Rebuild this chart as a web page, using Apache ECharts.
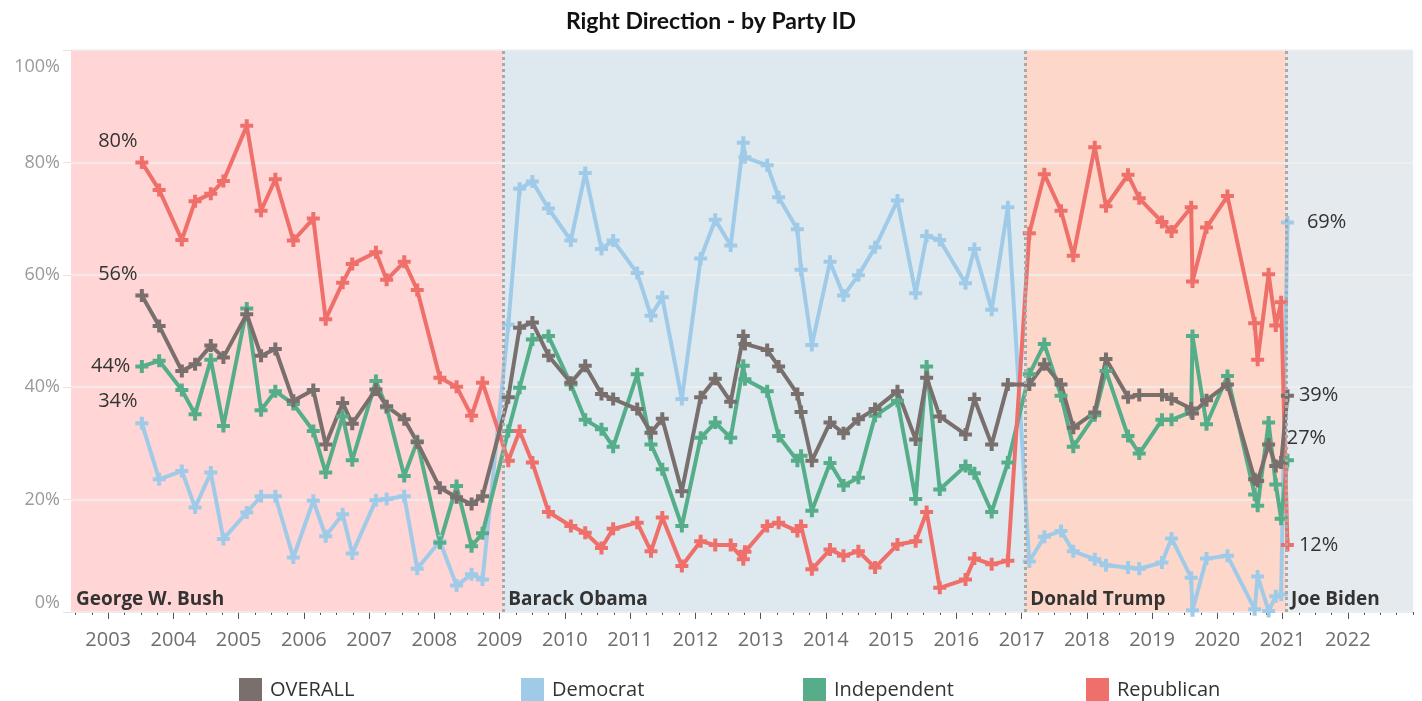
<!DOCTYPE html>
<html><head><meta charset="utf-8">
<script src="https://cdn.jsdelivr.net/npm/echarts@6/dist/echarts.min.js"></script>
<style>html,body{margin:0;padding:0;background:#fff}#c{width:1422px;height:701px}</style>
</head><body><div id="c"></div>
<script>
// ---- data (decimal year of survey, % saying "right direction") ----
const dates = [
  2003.516, 2003.781, 2004.129, 2004.332, 2004.573, 2004.766, 2005.124, 2005.343, 2005.562, 2005.838,
  2006.144, 2006.334, 2006.594, 2006.741, 2007.104, 2007.268, 2007.538, 2007.737, 2008.084, 2008.340,
  2008.570, 2008.738,
  2009.133, 2009.306, 2009.502, 2009.749, 2010.092, 2010.312, 2010.561, 2010.740, 2011.109, 2011.320,
  2011.493, 2011.793, 2012.081, 2012.305, 2012.542, 2012.735, 2012.760, 2013.101, 2013.276, 2013.564,
  2013.620, 2013.786, 2014.064, 2014.271, 2014.499, 2014.755, 2015.098, 2015.377, 2015.545, 2015.746,
  2016.141, 2016.277, 2016.542, 2016.790,
  2017.119, 2017.349, 2017.605, 2017.793, 2018.122, 2018.294, 2018.632, 2018.804, 2019.152, 2019.299,
  2019.600, 2019.620, 2019.835, 2020.156, 2020.573, 2020.619, 2020.787, 2020.897, 2020.979, 2021.075
];
const overall = [
  56.3, 50.9, 42.9, 44.1, 47.4, 45.3, 53.0, 45.6, 46.8, 37.6, 39.5, 29.8, 37.2, 33.5, 39.6, 36.6, 34.3, 30.2, 22.1, 20.4, 19.2, 20.6,
  38.2, 50.6, 51.5, 45.6, 40.8, 43.8, 38.8, 37.9, 36.1, 31.9, 34.4, 21.5, 38.2, 41.5, 37.4, 49.1, 47.7, 46.6, 43.7, 38.8, 35.6, 26.9,
  33.7, 31.8, 34.3, 36.1, 39.3, 30.7, 41.7, 34.8, 31.6, 37.9, 29.8, 40.5,
  40.5, 44.1, 40.5, 32.8, 35.5, 45.0, 38.2, 38.6, 38.6, 37.9, 36.2, 35.3, 37.7, 40.5, 23.6, 23.3, 29.8, 26.0, 26.6, 38.5
];
const democrat = [
  33.6, 23.6, 25.1, 18.6, 24.8, 13.0, 17.7, 20.6, 20.6, 9.7, 19.8, 13.5, 17.4, 10.4, 19.9, 20.1, 20.6, 7.7, 12.6, 4.7, 6.7, 5.8,
  51.1, 75.3, 76.6, 71.8, 66.1, 78.1, 64.6, 66.1, 60.3, 52.7, 56.0, 37.9, 62.9, 69.8, 65.2, 83.5, 80.9, 79.5, 73.8, 68.1, 60.9, 47.5,
  62.3, 56.3, 59.9, 64.9, 73.2, 56.7, 66.9, 66.2, 58.5, 64.6, 53.8, 72.0,
  9.0, 13.4, 14.4, 10.8, 9.4, 8.3, 7.9, 7.7, 8.8, 13.1, 6.1, 0.3, 9.5, 10.0, 0.5, 6.3, 0.2, 2.8, 3.1, 69.3
];
const independent = [
  43.7, 44.7, 39.5, 35.2, 44.9, 33.1, 54.0, 35.9, 39.3, 37.0, 32.2, 24.8, 34.8, 27.0, 41.1, 36.4, 24.2, 30.4, 12.3, 22.4, 11.7, 14.0,
  32.2, 39.9, 48.5, 49.1, 40.5, 34.2, 32.5, 29.4, 42.3, 29.8, 25.4, 15.3, 31.0, 33.7, 31.0, 43.8, 41.4, 39.3, 31.3, 26.9, 27.8, 18.0,
  26.5, 22.5, 23.9, 34.9, 37.6, 20.1, 43.7, 21.8, 26.0, 24.7, 17.8, 26.6,
  42.3, 47.7, 38.5, 29.4, 35.0, 42.9, 31.3, 28.2, 34.2, 34.2, 35.6, 49.1, 33.4, 42.0, 20.9, 18.9, 33.7, 22.7, 16.6, 27.0
];
const republican = [
  80.0, 75.1, 66.2, 73.1, 74.4, 76.7, 86.5, 71.4, 77.0, 66.1, 70.0, 52.1, 58.6, 61.9, 64.0, 59.1, 62.3, 57.3, 41.7, 40.1, 34.9, 40.8,
  26.9, 32.2, 26.6, 17.8, 15.3, 14.1, 11.4, 14.8, 15.9, 10.8, 16.8, 8.2, 12.6, 11.9, 11.9, 9.4, 10.7, 15.3, 15.9, 14.4, 15.3, 7.6,
  11.1, 10.0, 10.8, 7.9, 12.0, 12.6, 17.8, 4.3, 5.8, 9.5, 8.5, 9.1,
  67.4, 77.9, 71.4, 63.4, 82.7, 72.2, 77.8, 73.6, 69.4, 67.7, 72.0, 58.8, 68.4, 74.0, 51.4, 44.9, 60.1, 51.0, 55.1, 11.9
];
const seriesNames = ['OVERALL', 'Democrat', 'Independent', 'Republican'];
const yearLabels = [2003, 2004, 2005, 2006, 2007, 2008, 2009, 2010, 2011, 2012, 2013, 2014, 2015, 2016, 2017, 2018, 2019, 2020, 2021, 2022];
const presidents = ['George W. Bush', 'Barack Obama', 'Donald Trump', 'Joe Biden'];
const termStarts = [2002.43, 2009.055, 2017.055, 2021.055];
const axisStart = 2002.43, axisEnd = 2023.0;

// ---- styling ----
const colors = { 'OVERALL': '#79706e', 'Democrat': '#a0cbe8', 'Independent': '#55ae89', 'Republican': '#ef6f6a' };
const bandColors = ['#ffd5d5', '#dde9ef', '#fdd8ca', '#e5eaef'];
const FONT = 'Open Sans';
const plus = 'path://M4.5,0H8.5V4.5H13V8.5H8.5V13H4.5V8.5H0V4.5H4.5Z';

const quarterTicks = [];
for (let q = 2002.5; q <= axisEnd + 1e-9; q += 0.25) quarterTicks.push(+q.toFixed(2));

function makeSeries(name, vals, firstLabel, lastLabel, z) {
  const color = colors[name];
  const data = vals.map((v, i) => {
    const item = { value: [dates[i], v] };
    if (i === 0) item.label = Object.assign({ show: true }, firstLabel);
    if (i === vals.length - 1) item.label = Object.assign({ show: true }, lastLabel);
    return item;
  });
  return {
    name, type: 'line', data, z, color,
    symbol: plus, symbolSize: 13, showAllSymbol: true, symbolKeepAspect: true,
    lineStyle: { width: 4, color }, itemStyle: { color },
    label: { show: false, formatter: p => Math.round(p.value[1]) + '%', color: '#333', fontSize: 20, fontFamily: FONT },
    emphasis: { disabled: true }, animation: false
  };
}

const bandsSeries = {
  name: '_bands', type: 'line', data: [], z: 1, silent: true, animation: false,
  markArea: {
    silent: true, z: 1,
    label: { show: true, position: 'insideBottomLeft', distance: 5, offset: [0, 2], color: '#333', fontSize: 19, fontWeight: 'bold', fontFamily: FONT, formatter: '{b}' },
    data: presidents.map((p, i) => [
      { xAxis: termStarts[i], name: p, itemStyle: { color: bandColors[i] } },
      { xAxis: i < presidents.length - 1 ? termStarts[i + 1] : axisEnd }
    ])
  },
  markLine: {
    silent: true, symbol: 'none', label: { show: false },
    lineStyle: { color: '#a9a9a9', width: 3, type: [3, 3] },
    data: termStarts.slice(1).map(t => ({ xAxis: t }))
  }
};

const legendCommon = {
  icon: 'rect', itemWidth: 23, itemHeight: 24, top: 673, selectedMode: false,
  textStyle: { fontSize: 20, color: '#333', fontFamily: FONT, padding: [0, 0, 0, 3] }
};
const legendLefts = [234, 516, 798, 1081];

const option = {
  backgroundColor: '#fff',
  animation: false,
  title: {
    text: 'Right Direction - by Party ID', left: 'center', top: 5,
    textStyle: { fontSize: 23, fontWeight: 'bold', color: '#111', fontFamily: 'Lato' }
  },
  legend: seriesNames.map((n, i) => Object.assign({}, legendCommon, { data: [n], left: legendLefts[i] })),
  grid: { left: 71, right: 9, top: 50, bottom: 89, containLabel: false },
  xAxis: [
    {
      type: 'value', min: axisStart, max: axisEnd,
      axisLine: { show: true, lineStyle: { color: '#e4e4e4', width: 1 } },
      splitLine: { show: false },
      axisTick: { show: true, customValues: yearLabels, length: 7, lineStyle: { color: '#555' } },
      axisLabel: { customValues: yearLabels, formatter: v => String(Math.round(v)), color: '#6e6e6e', fontSize: 20, margin: 18, fontFamily: FONT }
    },
    {
      type: 'value', min: axisStart, max: axisEnd, position: 'bottom',
      axisLine: { show: false }, splitLine: { show: false },
      axisTick: { show: true, customValues: quarterTicks, length: 3, lineStyle: { color: '#555' } },
      axisLabel: { show: false }
    }
  ],
  yAxis: {
    type: 'value', min: 0, max: 100, interval: 20, z: 1.5,
    axisLine: { show: false },
    axisTick: { show: true, length: 8, lineStyle: { color: '#e3e3e3' } },
    splitLine: { show: true, lineStyle: { color: '#efefef', width: 1.5 } },
    axisLabel: {
      formatter: v => v === 100 ? '{t|100%}' : v + '%',
      rich: { t: { padding: [8, 0, 0, 0], color: '#9a9a9a', fontSize: 18, fontFamily: FONT } },
      color: '#9a9a9a', fontSize: 18, margin: 11, fontFamily: FONT,
      verticalAlignMaxLabel: 'top', verticalAlignMinLabel: 'bottom'
    }
  },
  series: [
    bandsSeries,
    makeSeries('Democrat', democrat, { position: 'top', offset: [-24, 0] }, { position: 'right', offset: [8, 0] }, 2),
    makeSeries('Independent', independent, { position: 'left' }, { position: 'top', offset: [19, 0] }, 2),
    makeSeries('Republican', republican, { position: 'top', offset: [-24, 0] }, { position: 'right' }, 2),
    makeSeries('OVERALL', overall, { position: 'top', offset: [-24, 0] }, { position: 'right' }, 2)
  ]
};

const chart = echarts.init(document.getElementById('c'), null, { renderer: 'canvas' });
chart.setOption(option);
</script>
</body></html>
